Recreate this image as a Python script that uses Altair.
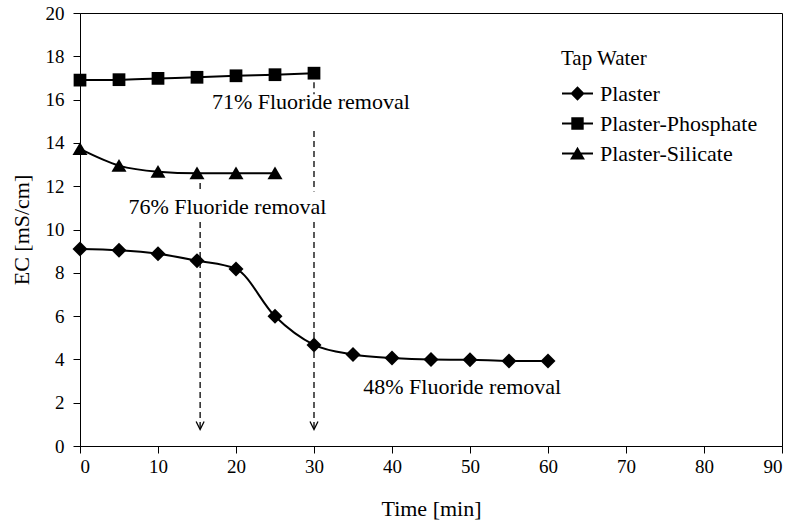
import altair as alt
import pandas as pd

# ---------------- data ----------------
series_names = ["Plaster", "Plaster-Phosphate", "Plaster-Silicate"]

plaster_time = [0, 5, 10, 15, 20, 25, 30, 35, 40, 45, 50, 55, 60]
plaster_ec = [9.10, 9.04, 8.88, 8.56, 8.18, 5.99, 4.67, 4.23, 4.06, 3.99, 3.98, 3.93, 3.93]

phosphate_time = [0, 5, 10, 15, 20, 25, 30]
phosphate_ec = [16.90, 16.92, 16.98, 17.03, 17.10, 17.15, 17.22]

silicate_time = [0, 5, 10, 15, 20, 25]
silicate_ec = [13.72, 12.95, 12.67, 12.60, 12.60, 12.60]

# annotations
note_text = ["71% Fluoride removal", "76% Fluoride removal", "48% Fluoride removal"]
note_x = [29.6, 18.9, 49.0]
note_y = [15.9, 11.05, 2.73]

# dashed arrow segments (parts hidden behind the texts are left out)
seg_x = [30.0, 30.0, 30.0, 15.4, 15.4]
seg_y1 = [16.80, 14.55, 10.35, 12.15, 10.35]
seg_y2 = [16.25, 11.75, 0.75, 11.75, 0.75]
arrow_x = [30.0, 15.4]
arrow_y = [0.95, 0.95]

x_ticks = [0, 10, 20, 30, 40, 50, 60, 70, 80, 90]
y_ticks = [0, 2, 4, 6, 8, 10, 12, 14, 16, 18, 20]

# ---------------- tables ----------------
rows = []
for name, ts, vs in zip(series_names,
                        [plaster_time, phosphate_time, silicate_time],
                        [plaster_ec, phosphate_ec, silicate_ec]):
    for t, v in zip(ts, vs):
        rows.append({"series": name, "time": t, "ec": v})
df = pd.DataFrame(rows)

notes = pd.DataFrame({"text": note_text, "x": note_x, "y": note_y})
segs = pd.DataFrame({"x": seg_x, "y1": seg_y1, "y2": seg_y2})
arrows = pd.DataFrame({"x": arrow_x, "y": arrow_y})

FONT = "'Liberation Serif', 'Times New Roman', 'DejaVu Serif', serif"

x_enc = alt.X("time:Q", scale=alt.Scale(domain=[0, 90], nice=False),
              axis=alt.Axis(values=x_ticks, title="Time [min]", grid=False))
y_enc = alt.Y("ec:Q", scale=alt.Scale(domain=[0, 20], nice=False),
              axis=alt.Axis(values=y_ticks, title="EC [mS/cm]", grid=False))

marker_paths = [
    "M0,-1L1,0L0,1L-1,0Z",
    "M-0.85,-0.85H0.85V0.85H-0.85Z",
    "M0,-0.9L1,0.8L-1,0.8Z",
]
# legend symbols: a thin filled bar (the line) plus the marker, all filled
BAR = "M-1,-0.065H1V0.065H-1Z"
legend_paths = [
    BAR + "M0,-0.46L0.46,0L0,0.46L-0.46,0Z",
    BAR + "M-0.4,-0.4H0.4V0.4H-0.4Z",
    BAR + "M0,-0.44L0.48,0.38L-0.48,0.38Z",
]

lines = alt.Chart(df).mark_line(
    color="black", strokeWidth=2, interpolate="monotone"
).encode(x=x_enc, y=y_enc, detail="series:N")

points = alt.Chart(df).mark_point(
    filled=True, fill="black", color="black", opacity=1, size=225, strokeWidth=0
).encode(
    x="time:Q", y="ec:Q",
    shape=alt.Shape("series:N",
                    scale=alt.Scale(domain=series_names, range=marker_paths),
                    legend=None),
)

legend_layer = alt.Chart(df).transform_filter("false").mark_point(
    filled=True, fill="black", color="black", size=961, opacity=1
).encode(
    x="time:Q", y="ec:Q",
    shape=alt.Shape("series:N",
                    scale=alt.Scale(domain=series_names, range=legend_paths),
                    legend=alt.Legend(
                        title="Tap Water", orient="none",
                        legendX=481, legendY=35,
                        titleFont=FONT, titleFontSize=21, titleFontWeight="normal",
                        titleColor="black", titlePadding=8,
                        labelFont=FONT, labelFontSize=22, labelColor="black",
                        labelOffset=6, symbolSize=961,
                        symbolFillColor="black", symbolOpacity=1,
                        rowPadding=2, padding=0,
                    )),
)

dash = alt.Chart(segs).mark_rule(
    color="black", strokeWidth=1.3, strokeDash=[6, 4]
).encode(x="x:Q", y="y1:Q", y2="y2:Q")

heads = alt.Chart(arrows).mark_point(
    shape="M-1,-1L0,1L1,-1", filled=False, stroke="black", strokeWidth=1.3,
    size=64, opacity=1
).encode(x="x:Q", y="y:Q")

texts = alt.Chart(notes).mark_text(
    font=FONT, fontSize=22, color="black", align="center", baseline="middle"
).encode(x="x:Q", y="y:Q", text="text:N")

chart = alt.layer(lines, dash, heads, points, legend_layer, texts).resolve_scale(
    shape="independent"
).properties(
    width=702, height=433,
    autosize=alt.AutoSizeParams(type="none"),
    padding={"left": 80, "top": 13, "right": 13, "bottom": 85},
).configure(
    font=FONT
).configure_view(
    stroke="black", strokeWidth=1
).configure_axis(
    labelFont=FONT, labelFontSize=19, labelColor="black",
    titleFont=FONT, titleFontSize=22, titleFontWeight="normal", titleColor="black",
    domainColor="black", domainWidth=1, tickColor="black", tickWidth=1, tickSize=7,
).configure_axisX(
    labelPadding=4, titlePadding=22,
).configure_axisY(
    labelPadding=9, titlePadding=12,
)

chart.save("out.html", embed_options={"renderer": "svg", "actions": False})
